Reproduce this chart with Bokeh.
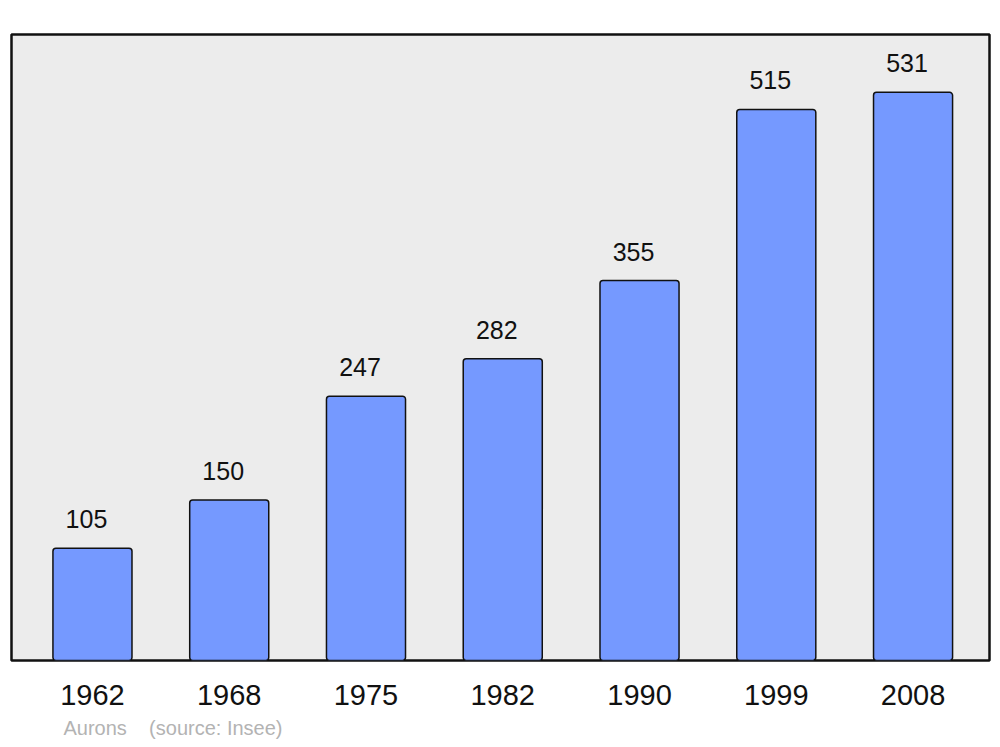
from bokeh.plotting import figure
from bokeh.models import FixedTicker, Range1d, ColumnDataSource, Title
from bokeh.core.properties import value
from bokeh.embed import file_html
from bokeh.resources import INLINE

years = ["1962", "1968", "1975", "1982", "1990", "1999", "2008"]
population = [105, 150, 247, 282, 355, 515, 531]
commune = "Aurons"
source_note = "(source: Insee)"

idx = list(range(len(years)))
src = ColumnDataSource(dict(x=idx, top=population, lab=[str(v) for v in population]))

p = figure(width=1000, height=747, output_backend="svg", toolbar_location=None,
           x_range=Range1d(-0.592, 6.559), y_range=Range1d(0, 585),
           y_axis_location=None, min_border_left=11, min_border_right=11,
           min_border_top=34, min_border_bottom=87)
p.background_fill_color = "#ececec"
p.border_fill_color = "white"
p.outline_line_color = "#111111"
p.outline_line_width = 2.5
p.xgrid.visible = False
p.ygrid.visible = False

p.vbar(x="x", top="top", width=0.578, bottom=0, source=src,
       fill_color="#7599ff", line_color="#111111", line_width=1.5, border_radius=3)

p.text(x="x", y="top", text="lab", source=src, y_offset=-29, x_offset=-6,
       text_align="center", text_baseline="alphabetic",
       text_font=value("Liberation Sans"), text_font_size="25px", text_color="#111111")

ax = p.xaxis[0]
ax.ticker = FixedTicker(ticks=idx)
ax.major_label_overrides = {i: y for i, y in zip(idx, years)}
ax.axis_line_color = None
ax.major_tick_line_color = None
ax.minor_tick_line_color = None
ax.major_label_standoff = 18
ax.major_label_text_font = "Liberation Sans"
ax.major_label_text_font_size = "29px"
ax.major_label_text_color = "#111111"

footer = Title(text=commune + "\u00a0\u00a0\u00a0\u00a0" + source_note, align="left", offset=52,
               text_font="Liberation Sans", text_font_size="20px", text_font_style="normal",
               text_color="#b3b3b3", standoff=15)
p.add_layout(footer, "below")

open("out.html", "w").write(file_html(p, INLINE))
